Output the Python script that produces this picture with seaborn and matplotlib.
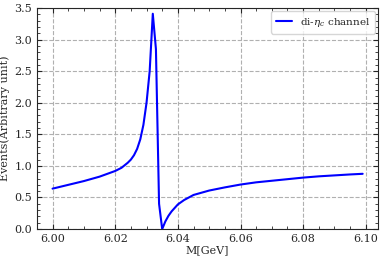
import numpy as np
import pandas as pd
import matplotlib
matplotlib.use("Agg")
import matplotlib.pyplot as plt
from matplotlib.ticker import AutoMinorLocator
import seaborn as sns

# invariant mass [GeV] and event yield
mass = [6.000, 6.005, 6.010, 6.015, 6.020, 6.022, 6.024, 6.025, 6.026, 6.027,
        6.028, 6.029, 6.030, 6.031, 6.032, 6.033, 6.034, 6.035, 6.036, 6.037,
        6.038, 6.040, 6.042, 6.045, 6.050, 6.055, 6.060, 6.065, 6.070, 6.075,
        6.080, 6.085, 6.090, 6.095, 6.099]
events = [0.64, 0.70, 0.76, 0.83, 0.92, 0.97, 1.05, 1.10, 1.17, 1.27,
          1.42, 1.65, 2.00, 2.50, 3.41, 2.85, 0.40, 0.00, 0.12, 0.21,
          0.28, 0.39, 0.46, 0.54, 0.61, 0.66, 0.705, 0.74, 0.765, 0.79,
          0.815, 0.835, 0.85, 0.865, 0.875]

df = pd.DataFrame({"M": mass, "Events": events})

sns.set_style("ticks")
plt.rcParams['font.family'] = ['DejaVu Serif']
plt.rcParams['mathtext.fontset'] = 'dejavuserif'
plt.rcParams['font.size'] = 8

fig = plt.figure(figsize=(3.82, 2.60), dpi=100)
ax = fig.add_axes([0.097, 0.119, 0.893, 0.850])

sns.lineplot(data=df, x="M", y="Events", ax=ax, color="#0000ff", lw=1.5,
             label=r"di-$\eta_c$ channel")

ax.set_xlim(5.99505, 6.10395)
ax.set_ylim(0, 3.5)
ax.set_xticks([6.00, 6.02, 6.04, 6.06, 6.08, 6.10])
ax.set_xticklabels(["6.00", "6.02", "6.04", "6.06", "6.08", "6.10"])
ax.set_yticks([0.0, 0.5, 1.0, 1.5, 2.0, 2.5, 3.0, 3.5])
ax.xaxis.set_minor_locator(AutoMinorLocator(4))
ax.yaxis.set_minor_locator(AutoMinorLocator(5))
ax.tick_params(which="both", direction="in", top=True, right=True, labelsize=8)
ax.tick_params(which="major", length=3.5)
ax.tick_params(which="minor", length=2)
ax.grid(True, which="major", ls="--", color="#b0b0b0", lw=0.8)
for s in ax.spines.values():
    s.set_linewidth(0.8)

ax.set_xlabel("M[GeV]", fontsize=8, labelpad=1)
ax.set_ylabel("Events(Arbitrary unit)", fontsize=8, labelpad=3)
ax.legend(loc="upper right", fontsize=7.5, frameon=True, fancybox=True,
          handlelength=1.5, borderaxespad=0.3, borderpad=0.45)

fig.savefig("out.png", dpi=100)
